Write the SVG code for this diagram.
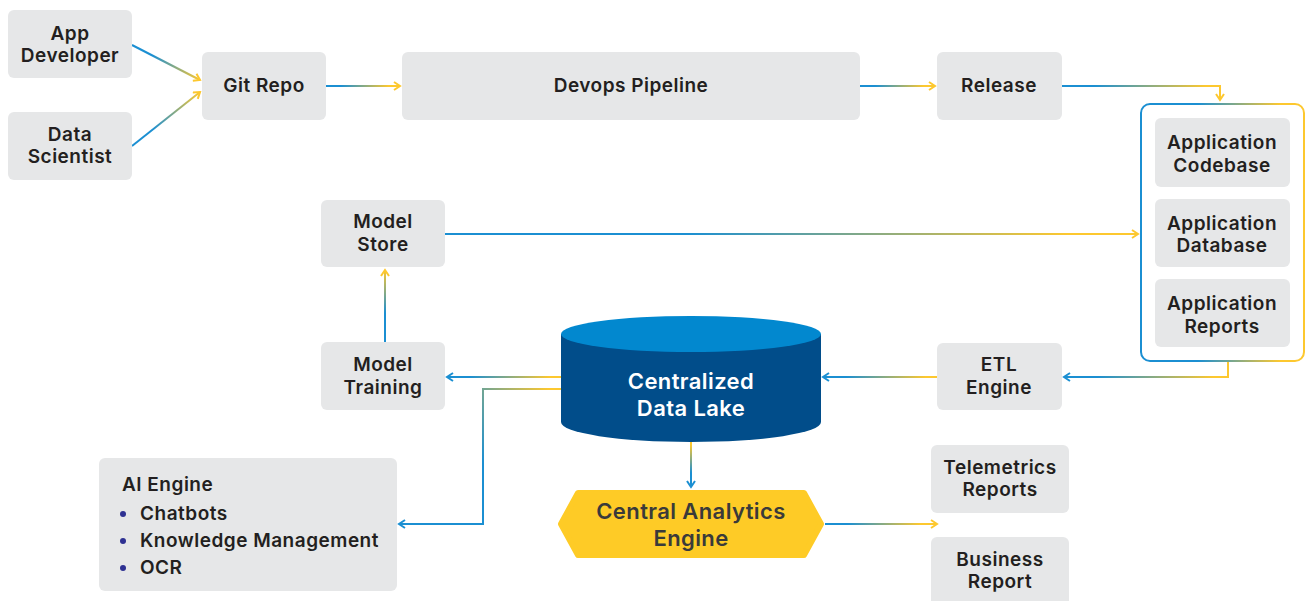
<svg xmlns="http://www.w3.org/2000/svg" width="1306" height="601" viewBox="0 0 1306 601">
  <style>
    .box { fill: #e6e7e8; }
    .lbl { font-family: Inter, "Noto Sans", "Liberation Sans", sans-serif; font-weight: 600; font-size: 19px; letter-spacing: 0.5px; fill: #231f20; text-anchor: middle; }
    .lbl-l { font-family: Inter, "Noto Sans", "Liberation Sans", sans-serif; font-weight: 600; font-size: 19px; letter-spacing: 0.5px; fill: #231f20; }
    .big { font-family: Inter, "Noto Sans", "Liberation Sans", sans-serif; font-weight: 600; font-size: 22px; letter-spacing: 0.4px; text-anchor: middle; }
    .conn { fill: none; stroke-width: 2; }
  </style>
  <defs>
    <marker id="ay" viewBox="0 0 10 10" refX="8" refY="5" markerWidth="10" markerHeight="10" markerUnits="userSpaceOnUse" orient="auto">
      <path d="M2,1 L8,5 L2,9" fill="none" stroke="#fdc82f" stroke-width="2" stroke-linejoin="miter"/>
    </marker>
    <marker id="ab" viewBox="0 0 10 10" refX="8" refY="5" markerWidth="10" markerHeight="10" markerUnits="userSpaceOnUse" orient="auto">
      <path d="M2,1 L8,5 L2,9" fill="none" stroke="#1b8fd2" stroke-width="2" stroke-linejoin="miter"/>
    </marker>
    <linearGradient id="g1" gradientUnits="userSpaceOnUse" x1="132" y1="45" x2="200" y2="80"><stop offset="0.3" stop-color="#1b8fd2"/><stop offset="1" stop-color="#fdc82f"/></linearGradient>
    <linearGradient id="g2" gradientUnits="userSpaceOnUse" x1="132" y1="146" x2="200" y2="92"><stop offset="0.3" stop-color="#1b8fd2"/><stop offset="1" stop-color="#fdc82f"/></linearGradient>
    <linearGradient id="g3" gradientUnits="userSpaceOnUse" x1="326" y1="0" x2="400" y2="0"><stop offset="0.2" stop-color="#1b8fd2"/><stop offset="0.85" stop-color="#fdc82f"/></linearGradient>
    <linearGradient id="g4" gradientUnits="userSpaceOnUse" x1="860" y1="0" x2="935" y2="0"><stop offset="0.2" stop-color="#1b8fd2"/><stop offset="0.85" stop-color="#fdc82f"/></linearGradient>
    <linearGradient id="g5" gradientUnits="userSpaceOnUse" x1="1062" y1="0" x2="1222" y2="0"><stop offset="0.2" stop-color="#1b8fd2"/><stop offset="0.9" stop-color="#fdc82f"/></linearGradient>
    <linearGradient id="g6" gradientUnits="userSpaceOnUse" x1="445" y1="0" x2="1138" y2="0"><stop offset="0.35" stop-color="#1b8fd2"/><stop offset="0.9" stop-color="#fdc82f"/></linearGradient>
    <linearGradient id="g7" gradientUnits="userSpaceOnUse" x1="1230" y1="0" x2="1064" y2="0"><stop offset="0.1" stop-color="#fdc82f"/><stop offset="0.8" stop-color="#1b8fd2"/></linearGradient>
    <linearGradient id="g8" gradientUnits="userSpaceOnUse" x1="937" y1="0" x2="823" y2="0"><stop offset="0.1" stop-color="#fdc82f"/><stop offset="0.8" stop-color="#1b8fd2"/></linearGradient>
    <linearGradient id="g9" gradientUnits="userSpaceOnUse" x1="561" y1="0" x2="447" y2="0"><stop offset="0.1" stop-color="#fdc82f"/><stop offset="0.8" stop-color="#1b8fd2"/></linearGradient>
    <linearGradient id="g10" gradientUnits="userSpaceOnUse" x1="561" y1="389" x2="470" y2="440"><stop offset="0.1" stop-color="#fdc82f"/><stop offset="1" stop-color="#1b8fd2"/></linearGradient>
    <linearGradient id="g11" gradientUnits="userSpaceOnUse" x1="0" y1="342" x2="0" y2="270"><stop offset="0.4" stop-color="#1b8fd2"/><stop offset="1" stop-color="#fdc82f"/></linearGradient>
    <linearGradient id="g12" gradientUnits="userSpaceOnUse" x1="0" y1="440" x2="0" y2="487"><stop offset="0.1" stop-color="#fdc82f"/><stop offset="0.7" stop-color="#1b8fd2"/></linearGradient>
    <linearGradient id="g13" gradientUnits="userSpaceOnUse" x1="825" y1="0" x2="937" y2="0"><stop offset="0.2" stop-color="#1b8fd2"/><stop offset="0.85" stop-color="#fdc82f"/></linearGradient>
    <linearGradient id="gc" gradientUnits="userSpaceOnUse" x1="1140" y1="0" x2="1305" y2="0"><stop offset="0.35" stop-color="#1b8fd2"/><stop offset="0.85" stop-color="#fdc82f"/></linearGradient>
  </defs>

  <rect width="1306" height="601" fill="#ffffff"/>

  <!-- connectors -->
  <g id="connectors" class="conn">
    <path d="M132,45 L200,80" stroke="url(#g1)" marker-end="url(#ay)"/>
    <path d="M132,146 L200,92" stroke="url(#g2)" marker-end="url(#ay)"/>
    <path d="M326,86 H400" stroke="url(#g3)" marker-end="url(#ay)"/>
    <path d="M860,86 H935" stroke="url(#g4)" marker-end="url(#ay)"/>
    <path d="M1062,86 H1220 V100" stroke="url(#g5)" marker-end="url(#ay)"/>
    <path d="M445,234 H1138" stroke="url(#g6)" marker-end="url(#ay)"/>
    <path d="M1228,362 V377 H1064" stroke="url(#g7)" marker-end="url(#ab)"/>
    <path d="M937,377 H823" stroke="url(#g8)" marker-end="url(#ab)"/>
    <path d="M561,377 H447" stroke="url(#g9)" marker-end="url(#ab)"/>
    <path d="M561,389 H483 V524 H399" stroke="url(#g10)" marker-end="url(#ab)"/>
    <path d="M385,342 V270" stroke="url(#g11)" marker-end="url(#ay)"/>
    <path d="M691,440 V487" stroke="url(#g12)" marker-end="url(#ab)"/>
    <path d="M825,524 H937" stroke="url(#g13)" marker-end="url(#ay)"/>
  </g>

  <g id="app-developer">
    <rect class="box" x="8" y="10" width="124" height="68" rx="6"/>
    <text class="lbl" x="70" y="40">App</text>
    <text class="lbl" x="70" y="62">Developer</text>
  </g>
  <g id="data-scientist">
    <rect class="box" x="8" y="112" width="124" height="68" rx="6"/>
    <text class="lbl" x="70" y="141">Data</text>
    <text class="lbl" x="70" y="163">Scientist</text>
  </g>
  <g id="git-repo">
    <rect class="box" x="202" y="52" width="124" height="68" rx="6"/>
    <text class="lbl" x="264" y="92">Git Repo</text>
  </g>
  <g id="devops-pipeline">
    <rect class="box" x="402" y="52" width="458" height="68" rx="6"/>
    <text class="lbl" x="631" y="92">Devops Pipeline</text>
  </g>
  <g id="release">
    <rect class="box" x="937" y="52" width="125" height="68" rx="6"/>
    <text class="lbl" x="999" y="92">Release</text>
  </g>

  <g id="application-group">
    <rect x="1141" y="104" width="163" height="257" rx="9" fill="#ffffff" stroke="url(#gc)" stroke-width="2"/>
    <g id="app-codebase">
      <rect class="box" x="1155" y="118" width="135" height="69" rx="6"/>
      <text class="lbl" x="1222" y="149">Application</text>
      <text class="lbl" x="1222" y="172">Codebase</text>
    </g>
    <g id="app-database">
      <rect class="box" x="1155" y="199" width="135" height="68" rx="6"/>
      <text class="lbl" x="1222" y="230">Application</text>
      <text class="lbl" x="1222" y="252">Database</text>
    </g>
    <g id="app-reports">
      <rect class="box" x="1155" y="279" width="135" height="68" rx="6"/>
      <text class="lbl" x="1222" y="310">Application</text>
      <text class="lbl" x="1222" y="333">Reports</text>
    </g>
  </g>

  <g id="model-store">
    <rect class="box" x="321" y="200" width="124" height="67" rx="6"/>
    <text class="lbl" x="383" y="228">Model</text>
    <text class="lbl" x="383" y="251">Store</text>
  </g>
  <g id="model-training">
    <rect class="box" x="321" y="342" width="124" height="68" rx="6"/>
    <text class="lbl" x="383" y="371">Model</text>
    <text class="lbl" x="383" y="394">Training</text>
  </g>
  <g id="etl-engine">
    <rect class="box" x="937" y="343" width="125" height="67" rx="6"/>
    <text class="lbl" x="999" y="371">ETL</text>
    <text class="lbl" x="999" y="394">Engine</text>
  </g>

  <g id="data-lake">
    <path d="M561,334 V422 A130,20 0 0 0 821,422 V334 Z" fill="#014d8a"/>
    <ellipse cx="691" cy="334" rx="130" ry="18" fill="#0288cf"/>
    <text class="big" x="691" y="389" fill="#ffffff">Centralized</text>
    <text class="big" x="691" y="416" fill="#ffffff">Data Lake</text>
  </g>

  <g id="ai-engine">
    <rect class="box" x="99" y="458" width="298" height="133" rx="6"/>
    <text class="lbl-l" x="122" y="491">AI Engine</text>
    <circle cx="123" cy="514" r="3" fill="#2e3192"/>
    <text class="lbl-l" x="140" y="520">Chatbots</text>
    <circle cx="123" cy="541" r="3" fill="#2e3192"/>
    <text class="lbl-l" x="140" y="547">Knowledge Management</text>
    <circle cx="123" cy="568" r="3" fill="#2e3192"/>
    <text class="lbl-l" x="140" y="574">OCR</text>
  </g>

  <g id="central-analytics-engine">
    <path d="M561,524 L578,493 H804 L821,524 L804,555 H578 Z" fill="#fecb26" stroke="#fecb26" stroke-width="6" stroke-linejoin="round"/>
    <text class="big" x="691" y="519" fill="#3a3a3a">Central Analytics</text>
    <text class="big" x="691" y="546" fill="#3a3a3a">Engine</text>
  </g>

  <g id="telemetrics-reports">
    <rect class="box" x="931" y="445" width="138" height="68" rx="6"/>
    <text class="lbl" x="1000" y="474">Telemetrics</text>
    <text class="lbl" x="1000" y="496">Reports</text>
  </g>
  <g id="business-report">
    <rect class="box" x="931" y="537" width="138" height="70" rx="6"/>
    <text class="lbl" x="1000" y="566">Business</text>
    <text class="lbl" x="1000" y="588">Report</text>
  </g>
</svg>
